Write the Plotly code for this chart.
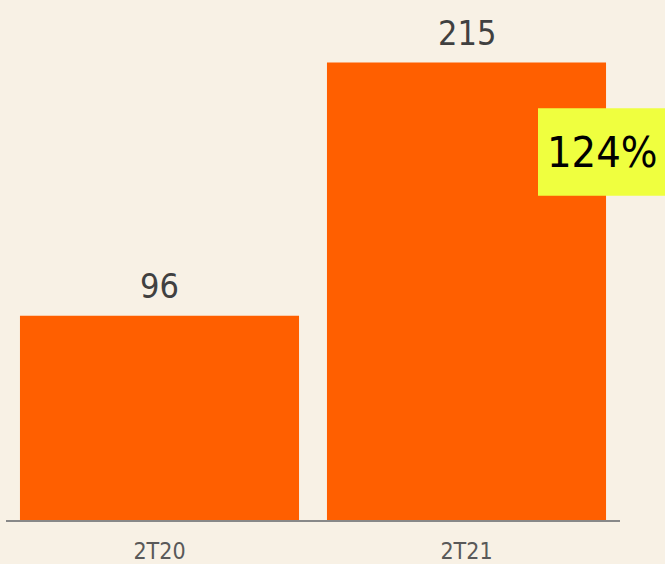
import plotly.graph_objects as go

categories = ["2T20", "2T21"]
values = [96, 215]

growth = round((values[1] / values[0] - 1) * 100)
growth_label = f"{growth}%"

BG = "#F8F1E5"
ORANGE = "#FF5F00"
YELLOW = "#EFFF3F"
FONT = "DejaVu Sans Condensed, DejaVu Sans, sans-serif"

PLOT_H = 523  # plot area height in px (top margin 0)

fig = go.Figure()
fig.add_trace(go.Bar(
    x=categories, y=values,
    marker=dict(color=ORANGE, line=dict(width=0)),
    hoverinfo="skip",
))

for c, v in zip(categories, values):
    fig.add_annotation(
        x=c, y=v, xref="x", yref="y", text=str(v), showarrow=False,
        yanchor="bottom", yshift=8,
        font=dict(family=FONT, size=34, color="#404040"),
    )

# growth highlight box
fig.add_shape(type="rect", xref="paper", yref="paper",
              x0=(538 - 6) / 614, x1=(668 - 6) / 614,
              y0=(PLOT_H - 197) / PLOT_H, y1=(PLOT_H - 109) / PLOT_H,
              fillcolor=YELLOW, line=dict(width=0), layer="above")
fig.add_annotation(
    xref="paper", yref="paper", x=(602 - 6) / 614, y=(PLOT_H - 153) / PLOT_H,
    text=growth_label, showarrow=False, xanchor="center", yanchor="middle",
    font=dict(family=FONT, size=43, color="#000000"),
)

fig.update_layout(
    width=665, height=564,
    margin=dict(l=6, r=45, t=0, b=564 - PLOT_H),
    paper_bgcolor=BG, plot_bgcolor=BG,
    bargap=0.091,
    showlegend=False,
    xaxis=dict(
        type="category", range=[-0.5, 1.5],
        showline=True, linecolor="#888888", linewidth=2,
        showgrid=False, zeroline=False, ticks="",
        tickfont=dict(family=FONT, size=23, color="#595959"),
        ticklabelstandoff=9,
    ),
    yaxis=dict(range=[0, 244.4], visible=False, showgrid=False, zeroline=False),
)

fig.write_html(
    "out.html",
    config={"displayModeBar": False, "staticPlot": True},
    post_script="document.body.style.margin='0';document.body.style.padding='0';document.body.style.background='" + BG + "';",
)
